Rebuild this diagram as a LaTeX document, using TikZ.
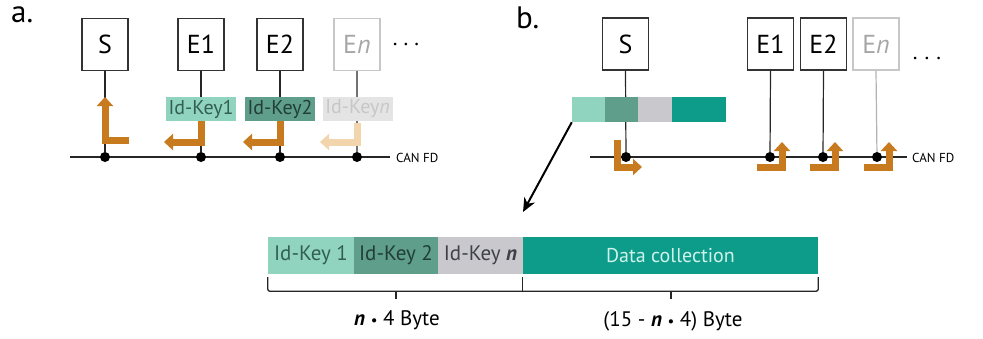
\documentclass[tikz,border=0pt]{standalone}
\usepackage{fontspec}
\setmainfont{PT Sans}
\usetikzlibrary{arrows.meta,calc}

\definecolor{flow}{HTML}{C77A1E}
\definecolor{flowpale}{HTML}{F2D5AC}
\definecolor{keyone}{HTML}{90D4BF}
\definecolor{keytwo}{HTML}{5E9E8A}
\definecolor{keylast}{HTML}{C9C9CD}
\definecolor{keyghost}{HTML}{E4E4E4}
\definecolor{payload}{HTML}{0E9C8A}
\definecolor{inkone}{HTML}{335F53}
\definecolor{inktwo}{HTML}{223F37}
\definecolor{inklast}{HTML}{40404A}
\definecolor{inkdata}{HTML}{CFF2EB}

\newcommand{\fsz}[1]{\fontsize{#1}{#1}\selectfont}

\begin{document}
\begin{tikzpicture}[x=1pt,y=-1pt,
  unit/.style={draw=black!80, line width=1.3pt, minimum width=46pt,
    minimum height=52pt, inner sep=0pt, font=\fsz{26}},
  ghostunit/.style={unit, draw=black!22, text=black!35},
  tap/.style={draw=black!85, line width=1.2pt},
  ghosttap/.style={draw=black!30, line width=1.2pt},
  bus/.style={draw=black!85, line width=1.3pt},
  joint/.style={circle, fill=black, inner sep=0pt, minimum size=10pt},
  tag/.style={minimum width=70pt, minimum height=24pt, inner sep=0pt, font=\fsz{20}},
  cell/.style={minimum height=25pt, inner sep=0pt},
  field/.style={minimum height=37pt, inner sep=0pt, font=\fsz{21}},
  move/.style={draw=flow, line width=7pt, line join=miter,
    -{Triangle[width=16pt,length=9pt]}},
  pale move/.style={move, draw=flowpale},
  busname/.style={anchor=west, inner sep=0pt, font=\fsz{13}},
  more/.style={inner sep=0pt, font=\fsz{22}},
  panel/.style={anchor=north west, inner sep=0pt, font=\fsz{31}},
  brace/.style={draw=black!85, line width=1.3pt, rounded corners=2pt}]
\useasboundingbox (0,0) rectangle (983,338);

% ---------------- a. each unit sends on its own ----------------
\node[panel] (la) at (11,7) {a.};

\node[unit] (sA) at (105,44.5) {S};
\node[unit] (e1A) at (201,44.5) {E1};
\node[unit] (e2A) at (280,44.5) {E2};
\node[ghostunit] (enA) at (357,44.5) {E\textit{n}};
\node[more] (moreA) at (406,44) {.\hspace{6pt}.\hspace{6pt}.};

\coordinate (busA0) at (70,157);
\coordinate (busA1) at (390,157);
\draw[bus] (busA0) -- (busA1);
\node[busname] (canA) at (396,158) {CAN FD};

\node[joint] (dSA) at (105,157) {};
\node[joint] (d1A) at (201,157) {};
\node[joint] (d2A) at (280,157) {};
\node[joint] (dnA) at (357,157) {};

\draw[tap] (sA.south) -- (dSA);
\draw[tap] (e1A.south) -- (d1A);
\draw[tap] (e2A.south) -- (d2A);
\draw[draw=black!55, line width=1.2pt] (enA.south) -- (dnA);

\node[tag, fill=keyone, text=inkone] (k1A) at (201,109) {Id-Key1};
\node[tag, fill=keytwo, text=inktwo] (k2A) at (280,109) {Id-Key2};
\node[tag, fill=keyghost, text=black!22] (knA) at (357.5,109) {Id-Key\textit{n}};

\draw[move] ($(dSA)+(24,-17)$) -- ($(dSA)+(0,-17)$) -- ($(dSA)+(0,-60)$);
\draw[move] (k1A.south) -- ($(d1A)+(0,-15)$) -- ($(d1A)+(-37,-15)$);
\draw[move] (k2A.south) -- ($(d2A)+(0,-15)$) -- ($(d2A)+(-37,-15)$);
\draw[pale move] ($(dnA)+(0,-34)$) -- ($(dnA)+(0,-15)$) -- ($(dnA)+(-37,-15)$);

% ---------------- b. one shared frame from S ----------------
\node[panel] (lb) at (516,7) {b.};

\node[unit] (sB) at (625.5,44) {S};
\node[unit] (e1B) at (770.5,44) {E1};
\node[unit] (e2B) at (823.5,44) {E2};
\node[ghostunit] (enB) at (876,44) {E\textit{n}};
\node[more] (moreB) at (927,58) {.\hspace{7pt}.\hspace{7pt}.};

\coordinate (busB0) at (590,157);
\coordinate (busB1) at (907,157);
\draw[bus] (busB0) -- (busB1);
\node[busname] (canB) at (912,158) {CAN FD};

\node[joint] (dSB) at (626,157) {};
\node[joint] (d1B) at (770,157) {};
\node[joint] (d2B) at (823,157) {};
\node[joint] (dnB) at (877,157) {};

\draw[tap] (sB.south) -- (dSB);
\draw[tap] (e1B.south) -- (d1B);
\draw[tap] (e2B.south) -- (d2B);
\draw[ghosttap] (enB.south) -- (dnB);

% small frame on the S tap
\node[cell, minimum width=33pt, fill=keyone] (fA) at (588.5,109.5) {};
\node[cell, minimum width=33pt, fill=keytwo] (fB) at (621.5,109.5) {};
\node[cell, minimum width=34pt, fill=keylast] (fN) at (655,109.5) {};
\node[cell, minimum width=54pt, fill=payload] (fD) at (699,109.5) {};

\draw[move] ($(dSB)+(-9,-17)$) -- ($(dSB)+(-9,10)$) -- ($(dSB)+(16,10)$);
\draw[move] ($(d1B)+(-13,10)$) -- ($(d1B)+(12,10)$) -- ($(d1B)+(12,-15)$);
\draw[move] ($(d2B)+(-13,10)$) -- ($(d2B)+(12,10)$) -- ($(d2B)+(12,-15)$);
\draw[move] ($(dnB)+(-13,10)$) -- ($(dnB)+(12,10)$) -- ($(dnB)+(12,-15)$);

% ---------------- frame layout ----------------
\node[field, minimum width=86pt, fill=keyone, text=inkone] (kb1) at (311,255.5) {Id-Key 1};
\node[field, minimum width=84pt, fill=keytwo, text=inktwo] (kb2) at (396,255.5) {Id-Key 2};
\node[field, minimum width=85pt, fill=keylast, text=inklast] (kbn) at (480.5,255.5) {Id-Key \textbf{\textit{n}}};
\node[field, minimum width=295pt, fill=payload, text=inkdata, font=\fsz{20}] (data) at (670.5,255.5) {Data collection};

\coordinate (zoomtip) at (523,212);
\draw[line width=2pt, -{Stealth[length=14pt,width=12pt]}] (fA.south west) -- (zoomtip);

\draw[brace] ([yshift=-3pt]kb1.south west) -- ([yshift=-17pt]kb1.south west)
  -- ([yshift=-17pt]data.south east) -- ([yshift=-3pt]data.south east);
\draw[brace] ([yshift=-3pt]data.south west) -- ([yshift=-17pt]data.south west);
\coordinate (midkeys) at (396,291);
\coordinate (middata) at (671,291);
\draw[brace] (midkeys) -- ++(0,8);
\draw[brace] (middata) -- ++(0,8);

\node[font=\fsz{21}, inner sep=0pt] (nkeys) at (397,320) {\textbf{\textit{n}} {\fsz{15}•} 4 Byte};
\node[font=\fsz{21}, inner sep=0pt] (ndata) at (673,321) {(15 - \textbf{\textit{n}} {\fsz{15}•} 4) Byte};
\end{tikzpicture}
\end{document}
